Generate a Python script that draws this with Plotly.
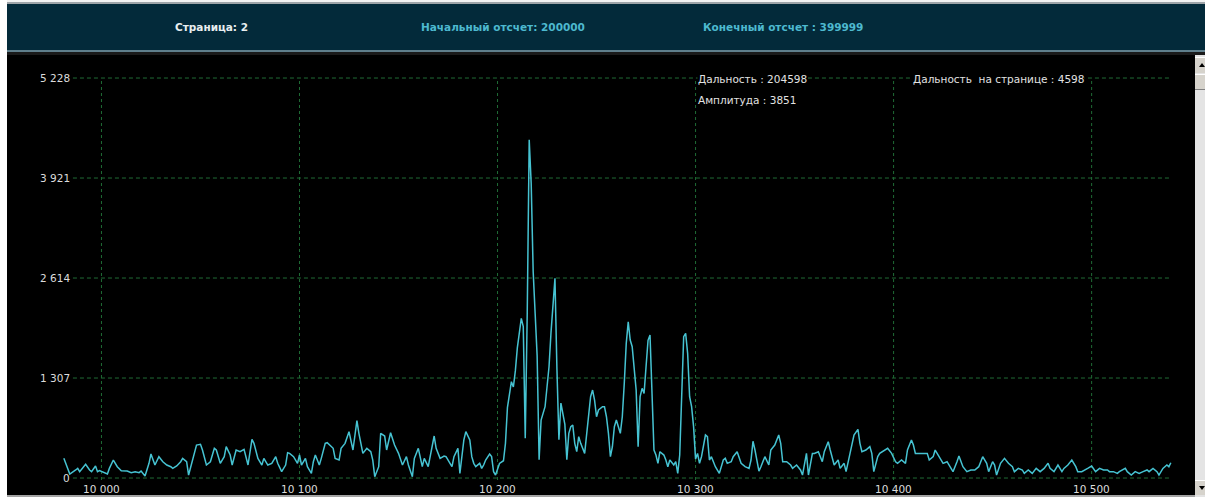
import plotly.graph_objects as go

# ---- signal page data -------------------------------------------------------
sample_index = [
    9981, 9984, 9987, 9988, 9989, 9992, 9994, 9995, 9997, 9998, 9999, 10000,
    10003, 10004, 10006, 10008, 10010, 10013, 10015, 10017, 10019, 10020, 10022,
    10024, 10025, 10027, 10029, 10031, 10033, 10035, 10036, 10038, 10040, 10041,
    10043, 10044, 10046, 10048, 10050, 10051, 10053, 10055, 10057, 10058, 10060,
    10062, 10063, 10065, 10066, 10068, 10070, 10072, 10074, 10076, 10077, 10079,
    10081, 10082, 10084, 10086, 10088, 10089, 10091, 10093, 10094, 10095, 10097,
    10099, 10100, 10101, 10103, 10104, 10106, 10107, 10108, 10110, 10111, 10113,
    10114, 10117, 10118, 10120, 10121, 10123, 10125, 10126, 10127, 10129, 10130,
    10132, 10134, 10136, 10137, 10138, 10140, 10141, 10143, 10144, 10146, 10148,
    10150, 10152, 10154, 10155, 10157, 10158, 10160, 10162, 10163, 10165, 10166,
    10168, 10169, 10171,
    10173, 10174, 10176, 10177, 10178, 10180, 10181, 10182, 10183, 10184, 10186,
    10187, 10188, 10189, 10191, 10192, 10193, 10194, 10196, 10197, 10198, 10199,
    10201, 10203, 10204, 10205, 10207, 10208, 10209, 10210, 10211, 10212, 10213,
    10214, 10215, 10216, 10217, 10218, 10219, 10220, 10221, 10222, 10224, 10225,
    10226, 10227, 10228, 10229, 10230, 10231, 10232, 10233, 10234, 10235, 10236,
    10237, 10238, 10239, 10240, 10241, 10242, 10244, 10245, 10246, 10247, 10248,
    10249, 10250, 10251, 10253, 10254, 10255, 10256, 10257, 10258, 10259, 10260,
    10262, 10263, 10264, 10265, 10266, 10267, 10268, 10269, 10270, 10271, 10272,
    10273, 10274, 10275, 10276, 10277, 10278, 10279, 10280, 10281, 10282, 10284,
    10285, 10286, 10287, 10289, 10290, 10291, 10292, 10293, 10294, 10295, 10296,
    10297, 10298, 10299, 10300, 10301, 10302, 10303, 10304, 10305, 10306, 10307,
    10308, 10309, 10310, 10312, 10313, 10314, 10315, 10316, 10318, 10319, 10321,
    10322, 10323, 10325, 10327, 10328, 10329, 10330, 10332,
    10333, 10335, 10337, 10338, 10340, 10342, 10343, 10344, 10346, 10348, 10349,
    10351, 10353, 10354, 10356, 10357, 10359, 10360, 10362, 10364, 10365, 10367,
    10368, 10370, 10372, 10373, 10375, 10376, 10378, 10380, 10382, 10383, 10384,
    10386, 10388, 10389, 10390, 10392, 10393, 10396, 10397, 10399, 10401, 10402,
    10404, 10406, 10407, 10409, 10410, 10411, 10413, 10415, 10417, 10418, 10420,
    10421, 10423, 10425, 10427, 10428, 10430, 10432, 10433, 10435, 10437, 10439,
    10441, 10443, 10445, 10447, 10448, 10450, 10451, 10452, 10454, 10456, 10458,
    10460, 10461, 10463, 10465, 10466, 10468, 10470, 10472, 10474, 10476, 10478,
    10479, 10481, 10483, 10485, 10486, 10488, 10490, 10492, 10493, 10495, 10497,
    10498, 10500, 10501, 10502, 10504, 10506, 10508, 10509, 10511, 10513, 10514,
    10517, 10518, 10520, 10522, 10524, 10526, 10528, 10529, 10531, 10533, 10534,
    10536, 10538, 10539, 10540,
]

amplitude = [
    257, 52, 105, 126, 83, 179, 105, 83, 157, 83, 96, 83,
    52, 126, 235, 148, 96, 91, 70, 83, 70, 91, 26,
    192, 314, 170, 279, 213, 170, 148, 126, 157, 213, 257,
    213, 39, 235, 431, 440, 366, 170, 213, 388, 366, 192,
    279, 410, 301, 170, 366, 344, 375, 170, 505, 453, 257,
    170, 257, 170, 192, 279, 192, 83, 170, 331, 322, 279,
    192, 301, 170, 257, 148, 61, 213, 301, 170, 257, 453,
    462, 388, 257, 235, 388, 453, 606, 475, 366, 749, 584,
    322, 388, 344, 235, 17, 148, 584, 549, 366, 592, 431,
    322, 170, 279, 170, 17, 257, 388, 148, 257, 148, 301,
    549, 388, 257,
    287, 279, 192, 148, 279, 388, 61, 322, 497, 606, 497,
    279, 192, 148, 192, 126, 170, 235, 313, 279, 83, 39,
    191, 226, 453, 920, 1259, 1190, 1400, 1700, 1935, 2087, 1978,
    520, 2150, 4420, 3851, 2700, 2150, 1600, 240, 758, 932, 1194,
    1455, 1900, 2300, 2610, 1420, 500, 980, 850, 700, 240, 584,
    671, 693, 453, 344, 540, 453, 322, 584, 889, 1063, 1150,
    1019, 801, 889, 932, 932, 801, 584, 279, 409, 671, 758,
    584, 801, 1237, 1760, 2040, 1804, 1716, 1455, 1150, 409, 1063,
    1172, 1106, 1455, 1800, 1870, 1019, 366, 300, 192, 344, 300,
    235, 148, 235, 170, 213, 61, 300, 1000, 1847, 1891, 1629,
    1063, 932, 671, 250, 322, 192, 279, 453, 562, 540, 235,
    279, 213, 148, 61, 148, 235, 257, 192, 213, 279, 344,
    279, 192, 148, 126, 235, 480, 366, 90,
    148, 279, 170, 366, 431, 562, 453, 213, 213, 170, 126,
    170, 105, 39, 322, 39, 322, 322, 344, 213, 344, 475,
    366, 170, 235, 126, 192, 83, 322, 562, 636, 453, 344,
    366, 410, 322, 83, 279, 322, 366, 388, 322, 213, 192,
    235, 192, 366, 497, 431, 322, 322, 322, 322, 235, 279,
    366, 279, 192, 213, 170, 83, 213, 287, 148, 83, 105,
    105, 148, 279, 192, 83, 213, 170, 39, 192, 257, 192,
    148, 83, 126, 105, 61, 105, 61, 126, 83, 126, 192,
    126, 83, 170, 83, 126, 170, 235, 148, 83, 83, 105,
    126, 157, 126, 83, 126, 105, 105, 83, 83, 61, 83,
    126, 83, 39, 83, 61, 83, 105, 83, 126, 83, 39,
    126, 170, 148, 200,
]

y_ticks = [0, 1307, 2614, 3921, 5228]
y_tick_labels = ["0", "1 307", "2 614", "3 921", "5 228"]
x_ticks = [10000, 10100, 10200, 10300, 10400, 10500]
x_tick_labels = ["10 000", "10 100", "10 200", "10 300", "10 400", "10 500"]

page_number = 2
start_sample = 200000
end_sample = 399999
cursor_range = 204598
cursor_amplitude = 3851
range_on_page = 4598

# ---- canvas geometry ---------------------------------------------------------
W, H = 1205, 497
X_RANGE = [9952.3, 10552.2]
Y_RANGE = [-222, 5529]
GRID_X0, GRID_X1 = 9985.6, 10539.8   # horizontal grid span
GRID_Y0 = -26                        # vertical grid bottom

FONT = "DejaVu Sans"
LINE_COLOR = "#46c3d2"
GRID_COLOR = "#1f6b35"
HEADER_BG = "#032a3a"
CYAN_TEXT = "#4db9cf"


def px(x):
    return x / W


def py(y):
    return 1 - y / H


fig = go.Figure()
fig.add_trace(go.Scatter(
    x=sample_index, y=amplitude, mode="lines",
    line=dict(color=LINE_COLOR, width=1.5),
    hoverinfo="skip",
))

shapes = []


def rect(x0, y0, x1, y1, color, layer="below"):
    shapes.append(dict(type="rect", xref="paper", yref="paper",
                       x0=px(x0), x1=px(x1), y0=py(y1), y1=py(y0),
                       fillcolor=color, line=dict(width=0), layer=layer))


# window chrome: top border, header band, separator, bottom border
rect(7, 0, W, 2, "#f2f2f2")
rect(7, 2, W, 4, "#9ea4a8")
rect(7, 4, W, 50, HEADER_BG)
rect(7, 50, W, 52, "#5f7f8c")
rect(7, 52, W, 55, "#1a1a1a")
rect(7, 495, 1195, H, "#a3a3a3")

# scrollbar on the right
rect(1195, 55, W, H, "#e4e4e4", layer="above")
rect(1195, 57, W, 73, "#d6d3cc", layer="above")
rect(1195, 57, W, 58, "#ffffff", layer="above")
rect(1195, 74, W, 90, "#d6d3cc", layer="above")
rect(1195, 74, W, 75, "#ffffff", layer="above")
rect(1195, 89, W, 90, "#808080", layer="above")
rect(1195, 480, W, 495, "#d6d3cc", layer="above")
rect(1195, 480, W, 481, "#ffffff", layer="above")
shapes.append(dict(type="path", xref="paper", yref="paper", layer="above",
                   path=f"M {px(1199)},{py(67)} L {px(1205)},{py(67)} L {px(1202)},{py(63)} Z",
                   fillcolor="#000000", line=dict(width=0)))
shapes.append(dict(type="path", xref="paper", yref="paper", layer="above",
                   path=f"M {px(1199)},{py(486)} L {px(1205)},{py(486)} L {px(1202)},{py(490)} Z",
                   fillcolor="#000000", line=dict(width=0)))

# dashed grid
for v in y_ticks:
    shapes.append(dict(type="line", xref="x", yref="y", x0=GRID_X0, x1=GRID_X1,
                       y0=v, y1=v, layer="below",
                       line=dict(color=GRID_COLOR, width=1, dash="4px,3px")))
for v in x_ticks:
    shapes.append(dict(type="line", xref="x", yref="y", x0=v, x1=v,
                       y0=GRID_Y0, y1=y_ticks[-1], layer="below",
                       line=dict(color=GRID_COLOR, width=1, dash="3px,3px")))

annotations = []
for v, t in zip(y_ticks, y_tick_labels):
    annotations.append(dict(x=9985.0, y=v, xref="x", yref="y", text=t,
                            showarrow=False, xanchor="right", yanchor="middle",
                            font=dict(family=FONT, size=10.5, color="#dcdcdc")))
for v, t in zip(x_ticks, x_tick_labels):
    annotations.append(dict(x=v, y=-148, xref="x", yref="y", text=t,
                            showarrow=False, xanchor="center", yanchor="middle",
                            font=dict(family=FONT, size=10.5, color="#dcdcdc")))

# header captions
header = [
    (211, f"Страница: {page_number}", "#e8eef0"),
    (503, f"Начальный отсчет: {start_sample}", CYAN_TEXT),
    (783, f"Конечный отсчет : {end_sample}", CYAN_TEXT),
]
for x, t, c in header:
    annotations.append(dict(x=px(x), y=py(27), xref="paper", yref="paper",
                            text=f"<b>{t}</b>", showarrow=False,
                            xanchor="center", yanchor="middle",
                            font=dict(family=FONT, size=10.5, color=c)))

# cursor readouts
readouts = [
    (697, 79, f"Дальность : {cursor_range}"),
    (697, 100, f"Амплитуда : {cursor_amplitude}"),
    (912, 79, f"Дальность  на странице : {range_on_page}"),
]
for x, y, t in readouts:
    annotations.append(dict(x=px(x), y=py(y), xref="paper", yref="paper",
                            text=t.replace("  ", "&nbsp; "), showarrow=False,
                            xanchor="left", yanchor="middle", bgcolor="#000000",
                            borderpad=0,
                            font=dict(family=FONT, size=10.5, color="#e2e2e2")))

fig.update_layout(
    width=W, height=H,
    margin=dict(l=0, r=0, t=0, b=0),
    paper_bgcolor="#ffffff",
    plot_bgcolor="#000000",
    showlegend=False,
    xaxis=dict(domain=[px(7), px(1195)], range=X_RANGE, visible=False),
    yaxis=dict(domain=[py(495), py(55)], range=Y_RANGE, visible=False),
    shapes=shapes,
    annotations=annotations,
)

fig.write_html("out.html")
